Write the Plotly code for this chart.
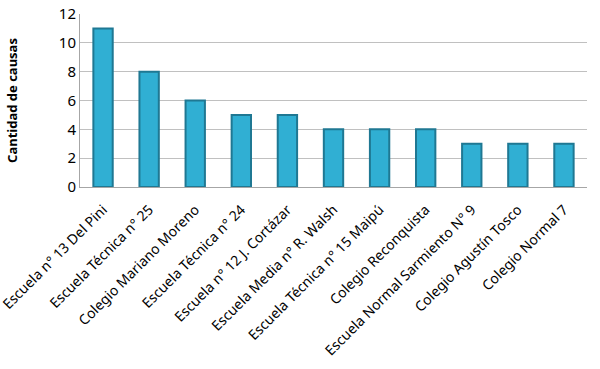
import plotly.graph_objects as go

categories = ["Escuela n° 13 Del Pini", "Escuela Técnica n° 25", "Colegio Mariano Moreno",
              "Escuela Técnica n° 24", "Escuela n° 12 J. Cortázar", "Escuela Media n° R. Walsh",
              "Escuela Técnica n° 15 Maipú", "Colegio Reconquista", "Escuela Normal Sarmiento N° 9",
              "Colegio Agustín Tosco", "Colegio Normal 7"]
values = [11, 8, 6, 5, 5, 4, 4, 4, 3, 3, 3]
y_ticks = [0, 2, 4, 6, 8, 10, 12]

fig = go.Figure()
fig.add_trace(go.Bar(
    x=categories, y=values, width=0.42,
    marker=dict(color="#30afd3", line=dict(color="#1f7893", width=2)),
))
fig.update_layout(
    width=600, height=369,
    margin=dict(l=80, r=13, t=14, b=182),
    plot_bgcolor="white", paper_bgcolor="white",
    showlegend=False,
    font=dict(family="Noto Sans, Liberation Sans, sans-serif", color="black"),
)
fig.update_xaxes(
    tickangle=-45, tickfont=dict(size=14), showline=True, linecolor="#a6a6a6",
    ticks="outside", ticklen=8, tickcolor="rgba(0,0,0,0)", showgrid=False,
    automargin=False,
)
fig.update_yaxes(
    range=[0, 12], tickvals=y_ticks, tickfont=dict(size=15), showline=True,
    linecolor="#a6a6a6", gridcolor="#c0c0c0", gridwidth=1, ticks="",
    title=dict(text="<b>Cantidad de causas</b>", font=dict(size=13), standoff=38),
    zeroline=False, automargin=False,
)
fig.write_html("out.html")
